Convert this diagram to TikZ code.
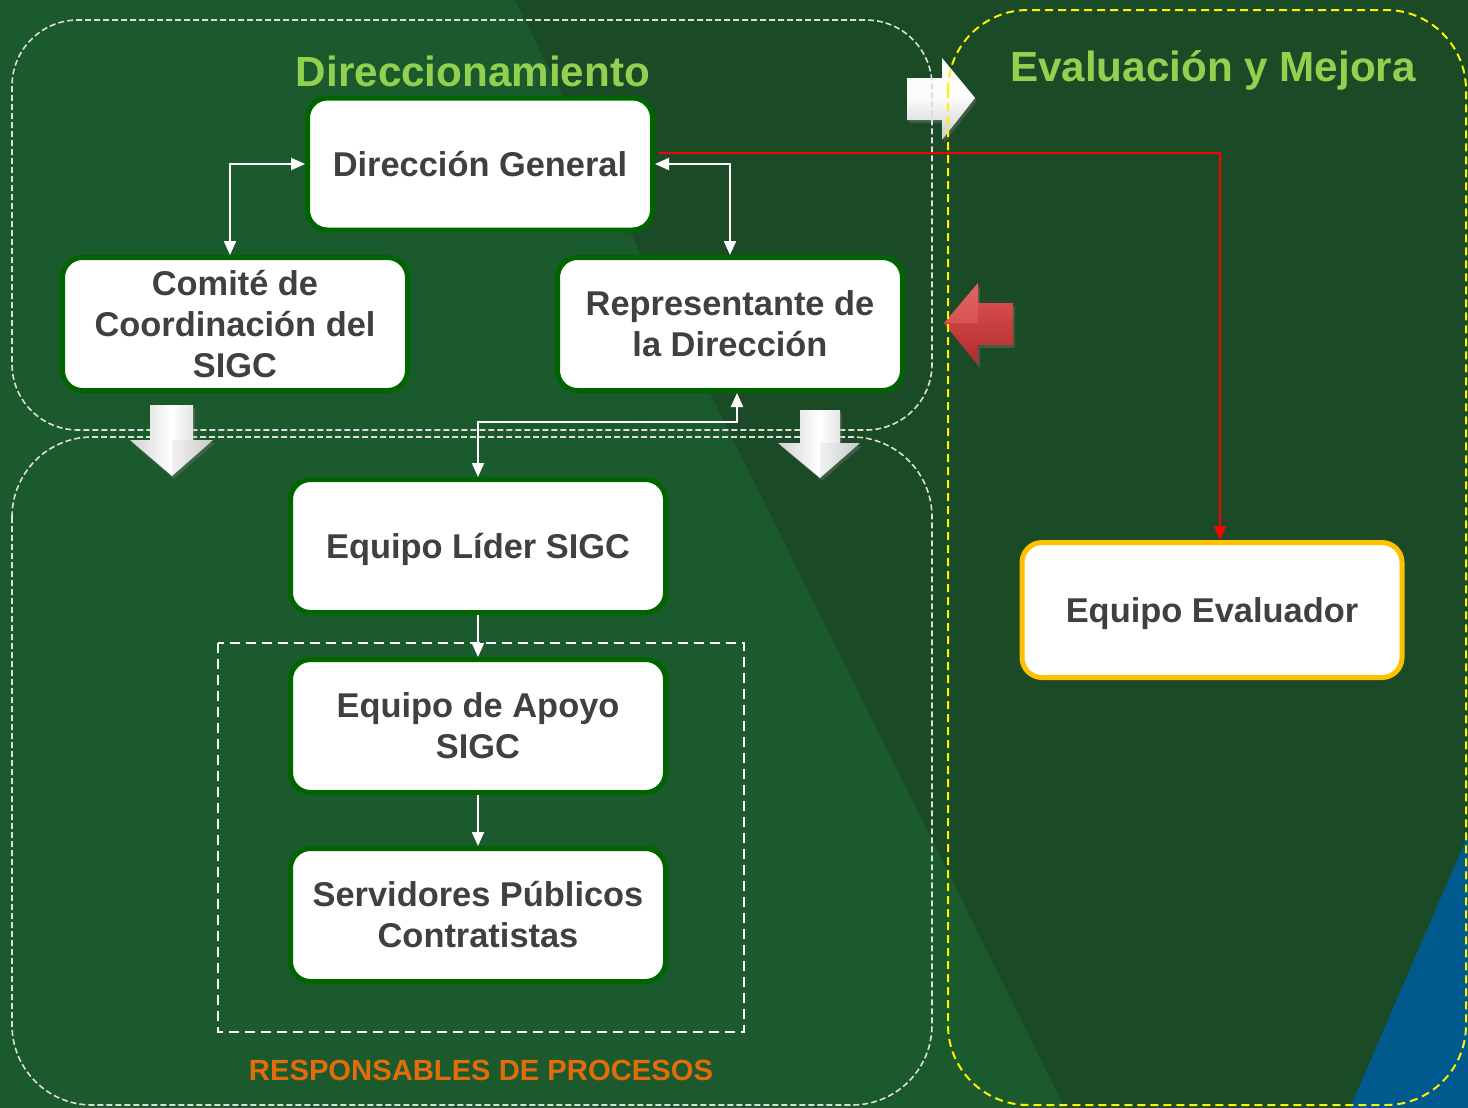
\documentclass[tikz,border=0pt]{standalone}
\usepackage{fontspec}
\setmainfont{Liberation Sans}
\usetikzlibrary{arrows.meta,shadows,calc}
\definecolor{bgA}{HTML}{1B5A2D}
\definecolor{bgB}{HTML}{1A4A26}
\definecolor{bluebg}{HTML}{005A8E}
\definecolor{boxgreen}{HTML}{006400}
\definecolor{txt}{HTML}{404040}
\definecolor{titlecol}{HTML}{92D050}
\definecolor{orangeT}{HTML}{E36C0A}
\definecolor{gold}{HTML}{FFC000}
\definecolor{regline}{HTML}{DDDDDD}
\definecolor{redA}{HTML}{E35656}
\definecolor{redB}{HTML}{B02A2A}
\begin{document}
\begin{tikzpicture}[x=0.5pt,y=-0.5pt,
  box/.style={draw=boxgreen, line width=2.5pt, fill=white, rounded corners=10pt,
    text=txt, font=\bfseries\fontsize{17.2}{20.5}\selectfont, align=center, inner sep=0pt},
  evbox/.style={box, draw=gold},
  region/.style={draw=regline, line width=0.8pt, dash pattern=on 3pt off 1.5pt},
  wline/.style={draw=white, line width=1pt},
  titletext/.style={text=titlecol, font=\bfseries\fontsize{21.1}{25}\selectfont, inner sep=0pt},
  barrow/.style={left color=gray!35, right color=gray!40, middle color=white, drop shadow={opacity=0.35, shadow xshift=1pt, shadow yshift=-1.5pt}},
  >={Triangle[length=7pt,width=6pt]}
]
\useasboundingbox (0,0) rectangle (1468,1108);
% background
\fill[bgA] (0,0) rectangle (1468,1108);
\fill[bgB] (515,0) -- (1468,0) -- (1468,1108) -- (1065,1108) -- cycle;
\fill[bluebg] (1468,835) -- (1468,1108) -- (1350,1108) -- cycle;

% right white block arrow and red block arrow (under the dashed regions)
\path[top color=white, bottom color=gray!40, middle color=white!96!gray, drop shadow={opacity=0.35, shadow xshift=1pt, shadow yshift=-1.5pt}]
  (907,78) -- (942,78) -- (942,58) -- (975,98) -- (942,140) -- (942,120) -- (907,120) -- cycle;
\fill[white, opacity=0.5] (942,58) -- (975,98) -- (942,98) -- cycle;
\path[top color=redA, bottom color=redB, drop shadow={opacity=0.35, shadow xshift=1pt, shadow yshift=-1.5pt}]
  (1013,303) -- (978,303) -- (978,283) -- (944,323) -- (978,365) -- (978,345) -- (1013,345) -- cycle;
\fill[redA!80!white, opacity=0.35] (978,283) -- (944,323) -- (978,323) -- cycle;

% regions
\draw[region, rounded corners=33pt] (12,20) rectangle (932,430);
\draw[region, rounded corners=40pt] (12,437) rectangle (932,1105);
\draw[yellow, line width=1pt, dash pattern=on 4pt off 2.5pt, rounded corners=40pt] (948,10) rectangle (1466,1105);
\draw[white, line width=1pt, dash pattern=on 5pt off 3pt] (218,643) rectangle (744,1032);

% down block arrows
\path[barrow] (150,405) -- (193,405) -- (193,440) -- (213,440) -- (172,476) -- (130,440) -- (150,440) -- cycle;
\fill[gray!50, opacity=0.2] (172,440) -- (213,440) -- (172,476) -- cycle;
\path[barrow] (800,410) -- (840,410) -- (840,443) -- (860,443) -- (820,478) -- (778,443) -- (800,443) -- cycle;
\fill[gray!50, opacity=0.2] (820,443) -- (860,443) -- (820,478) -- cycle;

% titles
\node[titletext, anchor=base] (tdir) at (473,86) {Direccionamiento};
\node[titletext, anchor=base] (teval) at (1213,81) {Evaluación y Mejora};
\node[text=orangeT, font=\bfseries\fontsize{14.6}{17}\selectfont, inner sep=0pt, anchor=base] (tresp) at (481,1080) {RESPONSABLES DE PROCESOS};

% boxes
\node[box, minimum width=172.5pt, minimum height=66pt] (dg) at (480,164) {Dirección General};
\node[box, minimum width=172.5pt, minimum height=66.5pt] (com) at (235,324) {Comité de\\Coordinación del\\SIGC};
\node[box, minimum width=172.5pt, minimum height=66.5pt] (rep) at (730,324) {Representante de\\la Dirección};
\node[box, minimum width=187.5pt, minimum height=66.5pt, text depth=0pt] (lid) at (478,546) {Equipo Líder SIGC};
\node[box, minimum width=187.5pt, minimum height=66.5pt] (apo) at (478,726) {Equipo de Apoyo\\SIGC};
\node[box, minimum width=187.5pt, minimum height=66.5pt] (ser) at (478,915) {Servidores Públicos\\Contratistas};
\node[evbox, minimum width=190pt, minimum height=67.5pt, text depth=0pt] (ev) at (1212,610) {Equipo Evaluador};

% connectors
\draw[wline, <->] ([xshift=-2.5pt]com.north) |- (dg.west);
\draw[wline, <->] (dg.east) -| (rep.north);
\coordinate (k1) at (737,422);
\draw[wline, <->] (k1 |- rep.south) -- (k1) -| (lid.north);
\draw[wline, ->] (lid.south) -- (apo.north);
\draw[wline, ->] (apo.south) -- (ser.north);
\draw[red, line width=1pt, ->] ([yshift=5.5pt,xshift=2pt]dg.east) -| ([xshift=4pt]ev.north);
\end{tikzpicture}
\end{document}
